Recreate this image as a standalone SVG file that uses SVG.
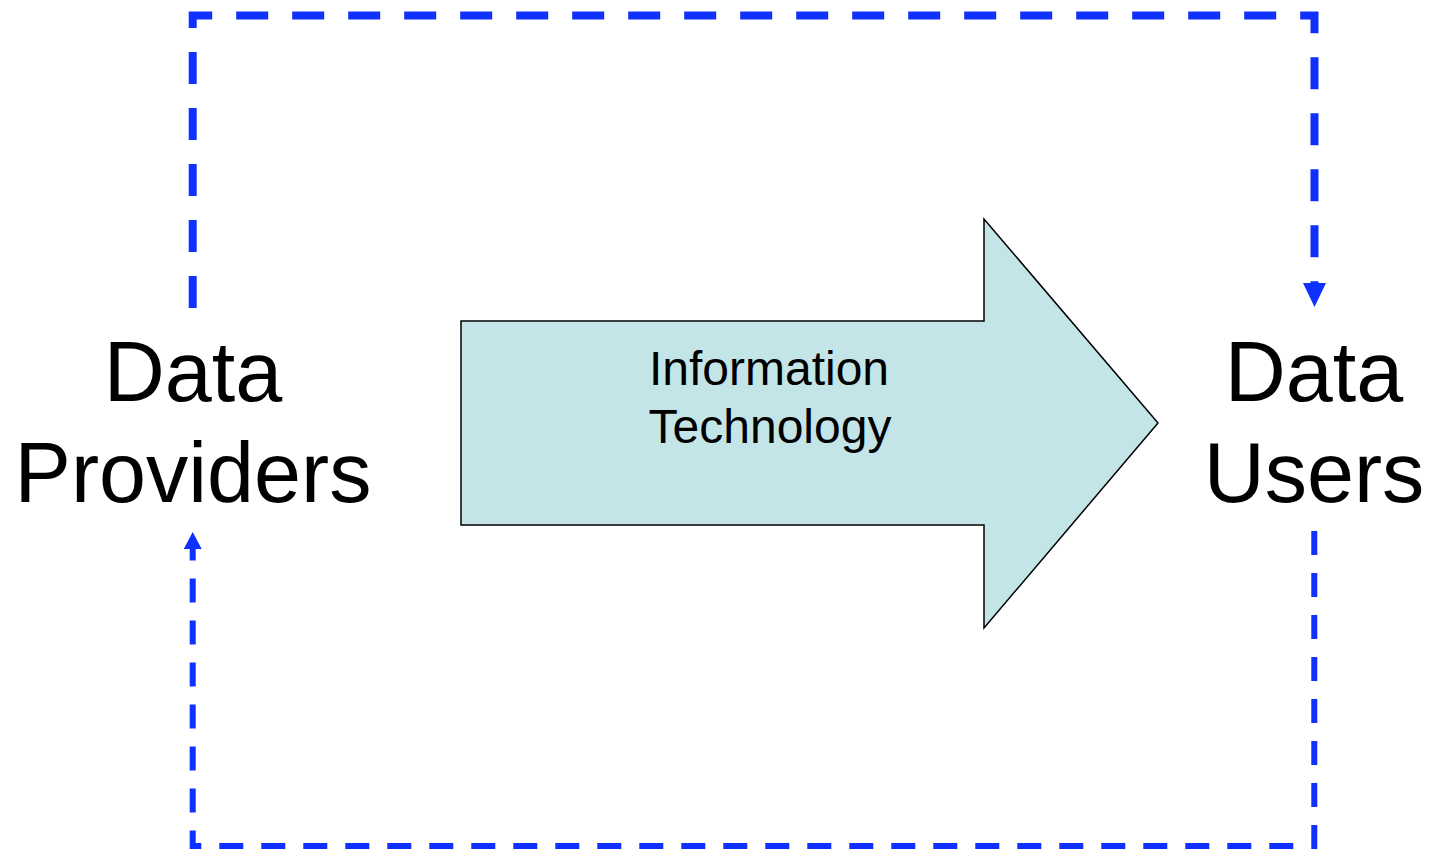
<svg xmlns="http://www.w3.org/2000/svg" width="1431" height="851" viewBox="0 0 1431 851">
  <style>
    .label { font-family: "Liberation Sans", Arial, sans-serif; fill: #000; text-anchor: middle; }
    .big { font-size: 84.5px; }
    .small { font-size: 48px; }
    .conn { fill: none; stroke: #1030ff; }
    .thick { stroke-width: 8; stroke-dasharray: 32 24; }
    .thin { stroke-width: 6; stroke-dasharray: 24 18; }
  </style>
  <defs>
    <marker id="headBig" markerUnits="userSpaceOnUse" markerWidth="25" markerHeight="24" refX="0" refY="11.5" orient="auto">
      <path d="M0,0 L24,11.5 L0,23 Z" fill="#1030ff"/>
    </marker>
    <marker id="headSmall" markerUnits="userSpaceOnUse" markerWidth="18" markerHeight="18" refX="0" refY="9" orient="auto">
      <path d="M0,0 L17,9 L0,18 Z" fill="#1030ff"/>
    </marker>
  </defs>
  <rect width="1431" height="851" fill="#ffffff"/>

  <g id="connectors">
    <path class="conn thick" d="M192.7,308 V15.5 H1314.5 V283" marker-end="url(#headBig)"/>
    <path class="conn thin" d="M1314.3,531 V846 H192.7 V549" marker-end="url(#headSmall)"/>
  </g>

  <g id="node-it">
    <polygon points="461,321 984,321 984,219 1158,423 984,628 984,525 461,525" fill="#c4e5e8" stroke="#000" stroke-width="1.5"/>
    <text class="label small" x="769" y="385">Information</text>
    <text class="label small" x="770" y="443">Technology</text>
  </g>

  <g id="node-providers">
    <text class="label big" x="193" y="401">Data</text>
    <text class="label big" x="193" y="502">Providers</text>
  </g>

  <g id="node-users">
    <text class="label big" x="1314" y="401">Data</text>
    <text class="label big" x="1314" y="502">Users</text>
  </g>
</svg>
